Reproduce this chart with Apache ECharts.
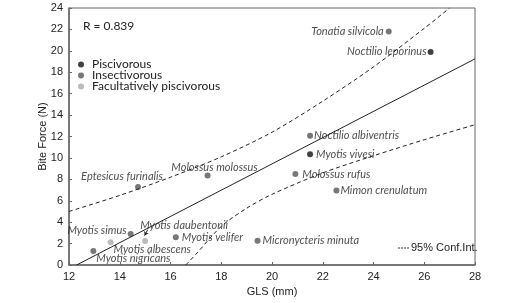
<!DOCTYPE html>
<html>
<head>
<meta charset="utf-8">
<script src="https://cdn.jsdelivr.net/npm/echarts@6/dist/echarts.min.js"></script>
<style>
  html, body { margin: 0; padding: 0; background: #fff; }
  #chart { width: 528px; height: 303px; }
</style>
</head>
<body>
<div id="chart"></div>
<script>
// species: [name, GLS (mm), bite force (N)]
var piscivorous = [
    ['Noctilio leporinus', 26.25, 19.9],
    ['Myotis vivesi', 21.5, 10.35]
];
var insectivorous = [
    ['Tonatia silvicola', 24.6, 21.8],
    ['Noctilio albiventris', 21.5, 12.08],
    ['Molossus rufus', 20.92, 8.5],
    ['Mimon crenulatum', 22.54, 6.95],
    ['Micronycteris minuta', 19.43, 2.27],
    ['Molossus molossus', 17.46, 8.35],
    ['Eptesicus furinalis', 14.72, 7.29],
    ['Myotis simus', 14.43, 2.9],
    ['Myotis velifer', 16.21, 2.59],
    ['Myotis nigricans', 12.96, 1.31]
];
var facultative = [
    ['Myotis albescens', 13.64, 2.12],
    ['Myotis daubentonii', 15.0, 2.24]
];

// regression line and 95% confidence limits
var fitLine = [[12.3, 0], [28, 19.25]];
var upperCI = [[12, 5.0], [14, 6.5], [16, 8.2], [18, 10.1], [20, 12.4], [22, 15.3], [24, 18.5], [26, 22.1], [27, 24.0]];
var lowerCI = [[16.6, 0], [17, 1.0], [18, 3.6], [19, 5.3], [20, 6.6], [22, 8.6], [24, 10.2], [26, 11.7], [28, 13.1]];

var xTicks = {min: 12, max: 28, interval: 2};
var yTicks = {min: 0, max: 24, interval: 2};

// where each species name sits relative to its dot
var labelPlace = {
    'Noctilio leporinus': {position: 'left', distance: 1},
    'Myotis vivesi': {position: 'right', distance: 3},
    'Tonatia silvicola': {position: 'left', distance: 2},
    'Noctilio albiventris': {position: 'right', distance: 1},
    'Molossus rufus': {position: 'right', distance: 4},
    'Mimon crenulatum': {position: 'right', distance: 1},
    'Micronycteris minuta': {position: 'right', distance: 2},
    'Molossus molossus': {position: 'top', distance: 0, offset: [7, 0]},
    'Eptesicus furinalis': {position: 'top', distance: 2, offset: [-16, 0]},
    'Myotis simus': {position: 'left', distance: 1, offset: [0, -3]},
    'Myotis velifer': {position: 'right', distance: 3},
    'Myotis nigricans': {position: 'right', distance: 0, offset: [0, 7]},
    'Myotis albescens': {position: 'right', distance: 0, offset: [0, 7]},
    'Myotis daubentonii': {position: 'top', distance: 0, offset: [39, -7]}
};

function toPoints(list) {
    return list.map(function (d) {
        var p = labelPlace[d[0]] || {position: 'right', distance: 3};
        return {
            name: d[0],
            value: [d[1], d[2]],
            label: {
                show: true,
                formatter: d[0],
                position: p.position,
                distance: p.distance,
                offset: p.offset || [0, 0]
            }
        };
    });
}

var labelFont = {
    fontFamily: 'Lato',
    fontStyle: 'italic',
    fontSize: 11,
    color: '#222'
};

var chart = echarts.init(document.getElementById('chart'));

chart.setOption({
    animation: false,
    grid: {
        left: 69, right: 53, top: 8, bottom: 38,
        show: true, borderColor: '#666', borderWidth: 1
    },
    textStyle: {fontFamily: 'Liberation Sans'},
    legend: {
        orient: 'vertical',
        left: 73, top: 53,
        itemWidth: 6, itemHeight: 6,
        itemGap: -2,
        icon: 'circle',
        textStyle: {fontFamily: 'Lato', fontSize: 12, lineHeight: 13, color: '#222', padding: [0, 0, 0, 3]},
        data: ['Piscivorous', 'Insectivorous', 'Facultatively piscivorous']
    },
    xAxis: {
        type: 'value',
        min: xTicks.min, max: xTicks.max, interval: xTicks.interval,
        name: 'GLS (mm)',
        nameLocation: 'middle',
        nameGap: 20,
        nameTextStyle: {fontSize: 11, color: '#222'},
        axisLine: {lineStyle: {color: '#666', width: 1.5}},
        axisTick: {inside: true, length: 3, lineStyle: {color: '#666'}},
        axisLabel: {fontSize: 11, color: '#222', margin: 6},
        splitLine: {show: false}
    },
    yAxis: {
        type: 'value',
        min: yTicks.min, max: yTicks.max, interval: yTicks.interval,
        name: 'Bite Force (N)',
        nameLocation: 'middle',
        nameGap: 21,
        nameMoveOverlap: false,
        nameTextStyle: {fontSize: 11, color: '#222'},
        axisLine: {lineStyle: {color: '#666', width: 1.5}},
        axisTick: {inside: true, length: 3, lineStyle: {color: '#666'}},
        axisLabel: {fontSize: 11, color: '#222', margin: 6},
        splitLine: {show: false}
    },
    graphic: [
        {
            type: 'text', left: 83, top: 20,
            style: {text: 'R = 0.839', fontFamily: 'Lato', fontSize: 12, fill: '#222'}
        },
        {
            type: 'line', shape: {x1: 398, y1: 248, x2: 410, y2: 248},
            style: {stroke: '#333', lineWidth: 1, lineDash: [2, 1]}
        },
        {
            type: 'text', left: 411, top: 242,
            style: {text: '95% Conf.Int.', fontFamily: 'Liberation Sans', fontSize: 11, fill: '#222'}
        }
    ],
    series: [
        {
            name: 'fit', type: 'line', data: fitLine,
            showSymbol: false, silent: true,
            lineStyle: {color: '#222', width: 1}
        },
        {
            name: 'upper', type: 'line', data: upperCI,
            showSymbol: false, silent: true, smooth: 0.3,
            lineStyle: {color: '#222', width: 1, type: [4, 3]}
        },
        {
            name: 'lower', type: 'line', data: lowerCI,
            showSymbol: false, silent: true, smooth: 0.3,
            lineStyle: {color: '#222', width: 1, type: [4, 3]}
        },
        {
            name: 'Piscivorous', type: 'scatter', symbolSize: 6,
            itemStyle: {color: '#111'},
            label: labelFont,
            data: toPoints(piscivorous)
        },
        {
            name: 'Insectivorous', type: 'scatter', symbolSize: 6,
            itemStyle: {color: '#555'},
            label: labelFont,
            data: toPoints(insectivorous)
        },
        {
            name: 'Facultatively piscivorous', type: 'scatter', symbolSize: 6,
            itemStyle: {color: '#aaaaaa'},
            label: labelFont,
            data: toPoints(facultative),
            markLine: {
                silent: true,
                symbol: ['none', 'arrow'],
                symbolSize: 4,
                label: {show: false},
                lineStyle: {color: '#222', width: 1, type: 'solid'},
                data: [[{coord: [15.1, 3.3]}, {coord: [14.98, 2.75]}]]
            }
        }
    ]
});
</script>
</body>
</html>
